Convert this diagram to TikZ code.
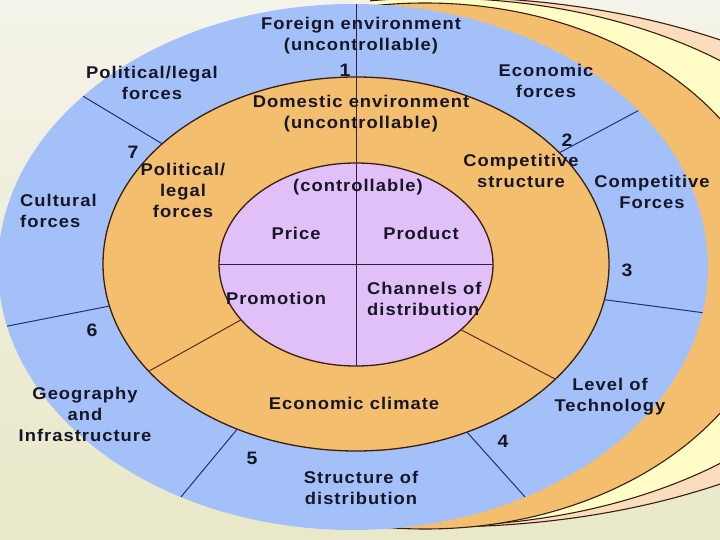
\documentclass[tikz,border=0pt]{standalone}
\usepackage{fontspec}
\usetikzlibrary{calc}
\setmainfont{Liberation Sans}[FakeStretch=1.08,LetterSpace=6]
\definecolor{bgtop}{RGB}{244,243,233}
\definecolor{bgbot}{RGB}{233,232,200}
\definecolor{peach}{RGB}{250,221,188}
\definecolor{paleyel}{RGB}{255,252,198}
\definecolor{orng}{RGB}{243,190,110}
\definecolor{blu}{RGB}{163,193,248}
\definecolor{purp}{RGB}{225,192,248}
\definecolor{edge}{RGB}{58,30,16}
\definecolor{navy}{RGB}{40,45,120}
\definecolor{brn}{RGB}{95,45,20}
\definecolor{vline}{RGB}{50,30,70}
\definecolor{ink}{RGB}{22,22,40}
\begin{document}
\begin{tikzpicture}[x=1pt,y=-1pt,
  lbl/.style={font=\bfseries\fontsize{17}{21}\selectfont, text=ink, inner sep=0pt, align=center},
  lbll/.style={lbl, align=left, anchor=west},
  num/.style={font=\bfseries\fontsize{18}{21}\selectfont, text=ink, inner sep=0pt},
  ring/.style={draw=edge, line width=1.3pt},
  backring/.style={draw=edge, line width=1.1pt},
  bluediv/.style={draw=navy, line width=1pt},
  orgdiv/.style={draw=brn, line width=1pt}]
\useasboundingbox (0,0) rectangle (720,540);
\clip (0,0) rectangle (720,540);
% background
\shade[top color=bgtop, bottom color=bgbot] (0,0) rectangle (720,540);
% back layers (visible only on the right)
\begin{scope}
\clip (370,-10) rectangle (730,550);
\filldraw[fill=peach, backring] (440,262) ellipse [x radius=513pt, y radius=265pt];
\filldraw[fill=paleyel, backring] (435,262) ellipse [x radius=441pt, y radius=264pt];
\filldraw[fill=orng, backring] (425,266) ellipse [x radius=356pt, y radius=263pt];
\end{scope}
% foreign (blue)
\fill[blu] (353,267) ellipse [x radius=355pt, y radius=263pt];
% domestic (orange)
\filldraw[fill=orng, ring] (356,264) ellipse [x radius=253pt, y radius=187pt];
% controllable (purple)
\filldraw[fill=purp, ring] (356,264.5) ellipse [x radius=137pt, y radius=101.5pt];

% named points on the ellipses
\coordinate (B) at (353,267);
\coordinate (D) at (356,264);
\coordinate (P) at (356,264.5);
\coordinate (vtop) at (356,4);
\coordinate (vbot) at ($(P)+(270:137pt and 101.5pt)$);
\coordinate (hl) at ($(P)+(180:137pt and 101.5pt)$);
\coordinate (hr) at ($(P)+(0:137pt and 101.5pt)$);
% orange ring dividers
\coordinate (oa1) at ($(P)+(213:137pt and 101.5pt)$);
\coordinate (oa2) at ($(D)+(215:253pt and 187pt)$);
\coordinate (ob1) at ($(P)+(320:137pt and 101.5pt)$);
\coordinate (ob2) at ($(D)+(322:253pt and 187pt)$);
% blue ring dividers
\coordinate (b7i) at ($(D)+(140:253pt and 187pt)$);
\coordinate (b7o) at ($(B)+(139.5:355pt and 263pt)$);
\coordinate (b2i) at ($(D)+(36.5:253pt and 187pt)$);
\coordinate (b2o) at ($(B)+(36.5:355pt and 263pt)$);
\coordinate (b3i) at ($(D)+(349:253pt and 187pt)$);
\coordinate (b3o) at ($(B)+(350:355pt and 263pt)$);
\coordinate (b4i) at ($(D)+(296:253pt and 187pt)$);
\coordinate (b4o) at ($(B)+(299:355pt and 263pt)$);
\coordinate (b5i) at ($(D)+(242:253pt and 187pt)$);
\coordinate (b5o) at ($(B)+(241:355pt and 263pt)$);
\coordinate (b6i) at ($(D)+(193:253pt and 187pt)$);
\coordinate (b6o) at ($(B)+(193:355pt and 263pt)$);

\draw[orgdiv] (oa1) -- (oa2);
\draw[orgdiv] (ob1) -- (ob2);
\draw[bluediv] (b7i) -- (b7o);
\draw[bluediv] (b2i) -- (b2o);
\draw[bluediv] (b3i) -- (b3o);
\draw[bluediv] (b4i) -- (b4o);
\draw[bluediv] (b5i) -- (b5o);
\draw[bluediv] (b6i) -- (b6o);
\draw[draw=vline, line width=1pt] (vtop) -- (vbot);
\draw[draw=vline, line width=1pt] (hl) -- (hr);

% labels
\node[lbl] (foreign) at (361,36) {Foreign environment\\(uncontrollable)};
\node[num] (n1) at (345,70) {1};
\node[lbl] (domestic) at (361,114) {Domestic environment\\(uncontrollable)};
\node[lbl] (polout) at (152,83) {Political/legal\\forces};
\node[num] (n7) at (133,152) {7};
\node[lbl] (polin) at (183,190) {Political/\\legal\\forces};
\node[lbll] (cultural) at (20,211) {Cultural\\forces};
\node[lbl] (controllable) at (358,187) {(controllable)};
\node[lbl] (price) at (296,233) {Price};
\node[lbl] (product) at (421,233) {Product};
\node[lbl] (promotion) at (276,298) {Promotion};
\node[lbll] (channels) at (367,299) {Channels of\\distribution};
\node[lbl] (econclimate) at (354,403) {Economic climate};
\node[lbl] (compstruct) at (521,171) {Competitive\\structure};
\node[num] (n2) at (567,140) {2};
\node[lbl] (econforces) at (546,81) {Economic\\forces};
\node[lbl] (compforces) at (652,192) {Competitive\\Forces};
\node[num] (n3) at (627,270) {3};
\node[lbl] (level) at (610,397) {Level of\\Technology};
\node[num] (n4) at (503,441) {4};
\node[lbl] (structure) at (361,488) {Structure of\\distribution};
\node[num] (n5) at (252,458) {5};
\node[lbl] (geography) at (85,414) {Geography\\and\\Infrastructure};
\node[num] (n6) at (92,330) {6};
\end{tikzpicture}
\end{document}
